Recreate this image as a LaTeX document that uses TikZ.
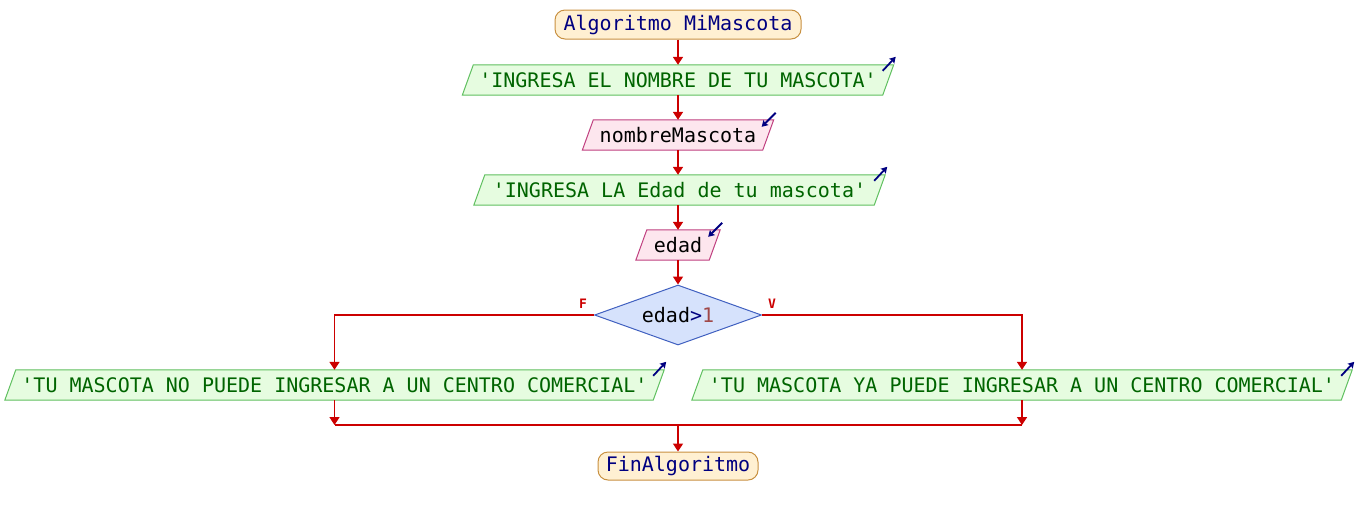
\documentclass[tikz,border=0pt]{standalone}
\usepackage{fontspec}
\setmonofont{DejaVu Sans Mono}
\usetikzlibrary{arrows.meta,shapes.geometric,backgrounds,calc}
\definecolor{flowR}{HTML}{CC0000}
\definecolor{termB}{HTML}{C89040}
\definecolor{termF}{HTML}{FFF0D2}
\definecolor{navy}{HTML}{000080}
\definecolor{outF}{HTML}{E6FCE0}
\definecolor{outB}{HTML}{60C060}
\definecolor{outT}{HTML}{006400}
\definecolor{inF}{HTML}{FDE6EE}
\definecolor{inB}{HTML}{C04080}
\definecolor{diaF}{HTML}{D6E2FC}
\definecolor{diaB}{HTML}{4060C0}
\definecolor{numC}{HTML}{A04848}
\newcommand\parabox[3]{%
  \path[fill=#2,draw=#3,line width=1pt]
    ($(#1.south west)+(-5.5,0)$) -- ($(#1.north west)+(5.5,0)$) --
    ($(#1.north east)+(5.5,0)$) -- ($(#1.south east)+(-5.5,0)$) -- cycle;}
\newcommand\outicon[1]{\draw[icon] ($(#1.north east)+(-5.5,6)$) -- ($(#1.north east)+(7.5,-8)$);}
\newcommand\inicon[1]{\draw[icon] ($(#1.north east)+(7.5,-7)$) -- ($(#1.north east)+(-6.5,7)$);}
\begin{document}
\begin{tikzpicture}[x=1pt,y=-1pt,
  txt/.style={font=\ttfamily\fontsize{20}{24}\selectfont, inner sep=0pt, minimum height=30pt},
  term/.style={txt, draw=termB, fill=termF, rounded corners=10pt, text=navy, line width=1pt},
  outn/.style={txt, text=outT},
  inn/.style={txt, text=black},
  dia/.style={diamond, aspect=2.78, minimum width=167pt, minimum height=60pt, inner sep=0pt,
    draw=diaB, fill=diaF, line width=1pt, font=\ttfamily\fontsize{20}{24}\selectfont},
  flow/.style={draw=flowR, line width=1.6pt, -{Triangle[width=10pt,length=8pt]}},
  link/.style={draw=flowR, line width=1.6pt},
  icon/.style={draw=navy, line width=1.8pt, -{Stealth[length=6pt,width=7pt,inset=1pt]}},
  lab/.style={text=flowR, font=\ttfamily\bfseries\fontsize{13}{14}\selectfont, inner sep=0pt}]
\useasboundingbox (0,0) rectangle (1356,515);

\node[term, minimum width=246pt, minimum height=29pt] (start) at (678,24.5) {Algoritmo MiMascota};
\node[outn, minimum width=420pt] (o1) at (678,80) {'INGRESA EL NOMBRE DE TU MASCOTA'};
\node[inn, minimum width=180pt] (i1) at (678,135) {nombreMascota};
\node[outn, minimum width=400pt] (o2) at (679.5,190) {'INGRESA LA Edad de tu mascota'};
\node[inn, minimum width=73pt] (i2) at (678,245) {edad};
\node[dia] (d) at (678,315) {edad{\color{navy}>}{\color{numC}1}};
\node[lab] (lf) at (583,304) {F};
\node[lab] (lv) at (772,304) {V};
\node[outn, minimum width=648pt] (lo) at (334.5,385) {'TU MASCOTA NO PUEDE INGRESAR A UN CENTRO COMERCIAL'};
\node[outn, minimum width=649pt] (ro) at (1022,385) {'TU MASCOTA YA PUEDE INGRESAR A UN CENTRO COMERCIAL'};
\node[term, minimum width=160pt, minimum height=28pt] (fin) at (678,466) {FinAlgoritmo};

\begin{scope}[on background layer]
  \parabox{o1}{outF}{outB}
  \parabox{o2}{outF}{outB}
  \parabox{lo}{outF}{outB}
  \parabox{ro}{outF}{outB}
  \parabox{i1}{inF}{inB}
  \parabox{i2}{inF}{inB}
\end{scope}

\outicon{o1}
\outicon{o2}
\outicon{lo}
\outicon{ro}
\inicon{i1}
\inicon{i2}

\coordinate (j) at (678,425);
\coordinate (jl) at (lo.south |- j);
\coordinate (jr) at (ro.south |- j);

\draw[flow] (start) -- (o1);
\draw[flow] (o1) -- (i1);
\draw[flow] (i1) -- (i2 |- o2.north);
\draw[flow] (o2.south -| i2) -- (i2);
\draw[flow] (i2) -- (d);
\draw[flow] (d.west) -| (lo.north);
\draw[flow] (d.east) -| (ro.north);
\draw[flow] (lo.south) -- (jl);
\draw[flow] (ro.south) -- (jr);
\draw[link] (jl) -- (jr);
\draw[flow] (j) -- (fin);
\end{tikzpicture}
\end{document}
